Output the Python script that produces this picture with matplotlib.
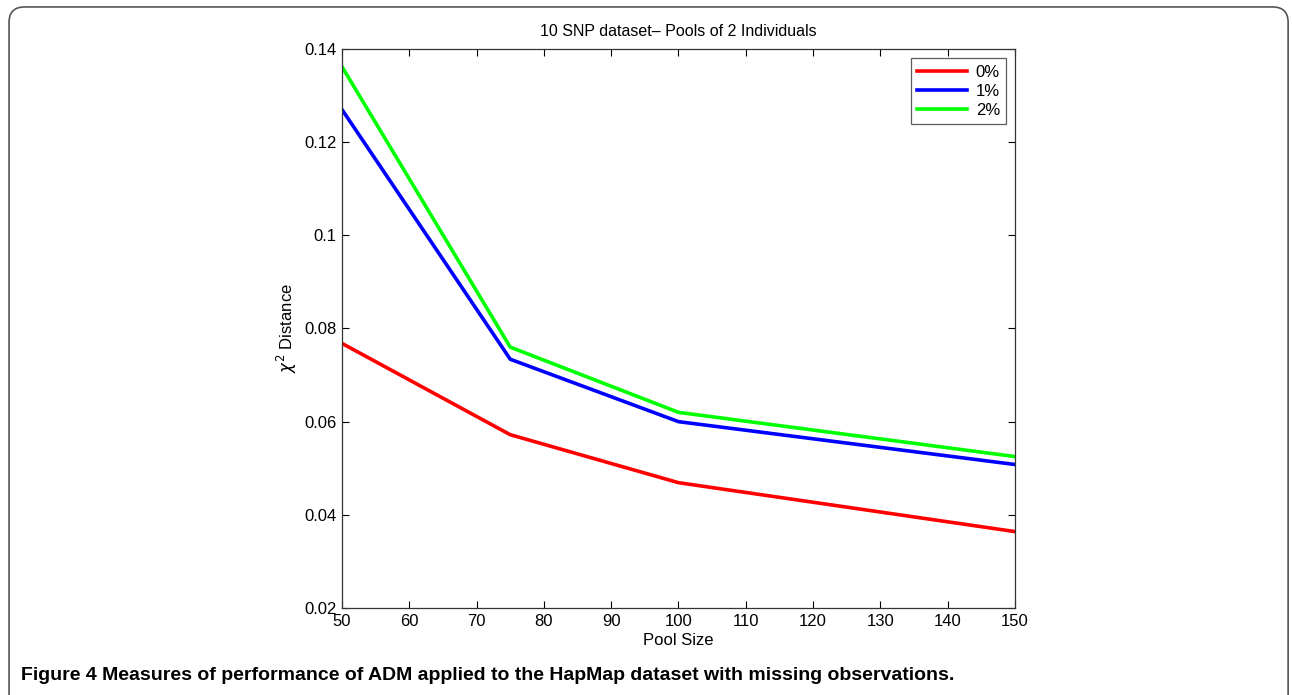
import matplotlib.pyplot as plt
from matplotlib.patches import FancyBboxPatch

# values
pool_size = [50, 75, 100, 150]
miss_0 = [0.0768, 0.0572, 0.0469, 0.0364]
miss_1 = [0.1270, 0.0734, 0.0600, 0.0508]
miss_2 = [0.1362, 0.0760, 0.0620, 0.0525]
labels = ['0%', '1%', '2%']
colors = ['#ff0000', '#0000ff', '#00ff00']

xticks = list(range(50, 151, 10))
yticks = [0.02, 0.04, 0.06, 0.08, 0.1, 0.12, 0.14]
ytick_labels = ['0.02', '0.04', '0.06', '0.08', '0.1', '0.12', '0.14']

plt.rcParams['font.family'] = ['Liberation Sans', 'DejaVu Sans']

fig = plt.figure(figsize=(12.92, 6.95), dpi=100)

# rounded frame around the figure panel
frame = FancyBboxPatch((0.007, -0.05), 0.99, 1.04, boxstyle='round,pad=0,rounding_size=0.012',
                       transform=fig.transFigure, facecolor='none', edgecolor='#555555',
                       linewidth=1.2, mutation_aspect=1292 / 695)
fig.patches.append(frame)

ax = fig.add_axes([0.2647, 0.1252, 0.5209, 0.8043])
for ys, lab, c in zip([miss_0, miss_1, miss_2], labels, colors):
    ax.plot(pool_size, ys, color=c, linewidth=2.6, label=lab)

ax.set_xlim(50, 150)
ax.set_ylim(0.02, 0.14)
ax.set_xticks(xticks)
ax.set_yticks(yticks)
ax.set_yticklabels(ytick_labels)
ax.tick_params(direction='in', top=True, right=True, labelsize=12, length=5, width=0.8, pad=4)
for s in ax.spines.values():
    s.set_linewidth(0.9)
    s.set_color('#333333')

ax.set_title('10 SNP dataset\u2013 Pools of 2 Individuals', fontsize=11.5, pad=9)
ax.set_xlabel('Pool Size', fontsize=12, labelpad=3)
ax.set_ylabel(r'$\chi^2$ Distance', fontsize=12, labelpad=4)

leg = ax.legend(loc='upper right', fontsize=12, frameon=True, fancybox=False,
                handlelength=3.0, borderpad=0.38, labelspacing=0.25, handletextpad=0.5,
                bbox_to_anchor=(0.9995, 0.9985))
leg.get_frame().set_edgecolor('#333333')
leg.get_frame().set_linewidth(0.9)

fig.text(0.016, 0.022, 'Figure 4 Measures of performance of ADM applied to the HapMap dataset with missing observations.',
         fontsize=14, fontweight='bold')

fig.savefig('out.png', dpi=100)
